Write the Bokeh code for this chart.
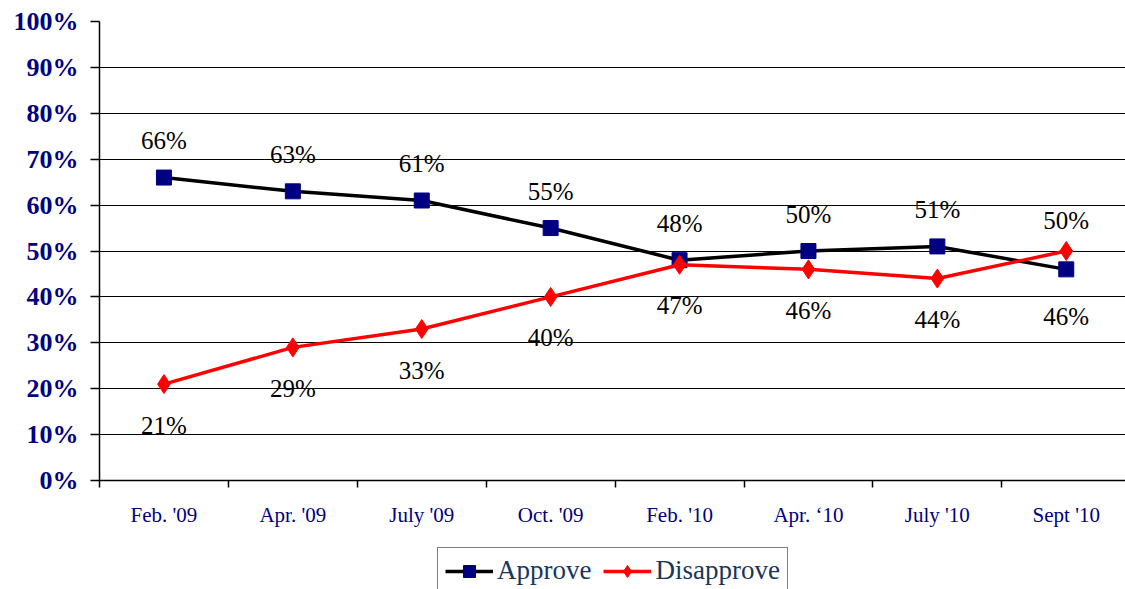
from bokeh.plotting import figure
from bokeh.layouts import column
from bokeh.models import ColumnDataSource, FixedTicker, Legend, LegendItem, Range1d
from bokeh.core.properties import value
from bokeh.embed import file_html
from bokeh.resources import INLINE

categories = ["Feb. '09", "Apr. '09", "July '09", "Oct. '09",
              "Feb. '10", "Apr. \u201810", "July '10", "Sept '10"]
approve = [66, 63, 61, 55, 48, 50, 51, 46]
disapprove = [21, 29, 33, 40, 47, 46, 44, 50]
y_ticks = [0, 10, 20, 30, 40, 50, 60, 70, 80, 90, 100]
series_names = ["Approve", "Disapprove"]

SERIF = "Liberation Serif"
NAVY = "#000080"
RED = "#ff0000"

xs = [i + 0.5 for i in range(len(categories))]
up, down = -37, 41
a_off = [up if a >= d else down + 6 for a, d in zip(approve, disapprove)]
d_off = [up + 6 if d > a else down for a, d in zip(approve, disapprove)]

src = ColumnDataSource(dict(
    x=xs, approve=approve, disapprove=disapprove,
    a_lab=[f"{v}%" for v in approve], d_lab=[f"{v}%" for v in disapprove],
    a_off=a_off, d_off=d_off,
))

p = figure(width=1125, height=540, output_backend="svg", toolbar_location=None,
           x_range=Range1d(0, 1026 / 128.9), y_range=Range1d(0, 100),
           min_border_left=99, min_border_top=21, min_border_bottom=60,
           min_border_right=0)
p.outline_line_color = None
p.background_fill_color = "white"
p.border_fill_color = "white"

# grid
p.xgrid.visible = False
p.ygrid.ticker = FixedTicker(ticks=y_ticks)
p.ygrid.grid_line_color = "#000000"
p.ygrid.grid_line_width = 1

# y axis
p.yaxis.ticker = FixedTicker(ticks=y_ticks)
p.yaxis.major_label_overrides = {t: f"{t}%" for t in y_ticks}
p.yaxis.major_label_text_font = SERIF
p.yaxis.major_label_text_font_style = "bold"
p.yaxis.major_label_text_font_size = "26px"
p.yaxis.major_label_text_color = NAVY
p.yaxis.major_tick_out = 9
p.yaxis.major_tick_in = 0
p.yaxis.minor_tick_out = 0
p.yaxis.minor_tick_in = 0
p.yaxis.major_label_standoff = 12
p.yaxis.axis_line_color = "#000000"
p.yaxis.axis_line_width = 1.5
p.yaxis.major_tick_line_color = "#000000"
p.yaxis.major_tick_line_width = 1.5

# x axis
p.xaxis.ticker = FixedTicker(ticks=xs, minor_ticks=list(range(len(categories) + 1)))
p.xaxis.major_label_overrides = {x: c for x, c in zip(xs, categories)}
p.xaxis.major_label_text_font = SERIF
p.xaxis.major_label_text_font_size = "21px"
p.xaxis.major_label_text_color = NAVY
p.xaxis.major_tick_out = 0
p.xaxis.major_tick_in = 0
p.xaxis.minor_tick_out = 7
p.xaxis.minor_tick_in = 0
p.xaxis.minor_tick_line_color = "#000000"
p.xaxis.minor_tick_line_width = 1.5
p.xaxis.major_label_standoff = 15
p.xaxis.axis_line_color = "#000000"
p.xaxis.axis_line_width = 1.5

# series
p.line("x", "approve", source=src, line_color="#000000", line_width=3.5)
p.scatter("x", "approve", source=src, marker="square", size=15,
          fill_color=NAVY, line_color=NAVY)
p.line("x", "disapprove", source=src, line_color=RED, line_width=3.5)
p.scatter("x", "disapprove", source=src, marker="diamond", size=19,
          fill_color=RED, line_color=RED)

for col, ycol, off in (("a_lab", "approve", "a_off"), ("d_lab", "disapprove", "d_off")):
    p.text("x", ycol, text=col, source=src, y_offset=off,
           text_align="center", text_baseline="middle",
           text_font=value(SERIF), text_font_size="25px", text_color="#000000")

# legend strip below the chart (series drawn off-screen so only the legend shows)
q = figure(width=1125, height=49, output_backend="svg", toolbar_location=None,
           x_range=Range1d(1000, 1001), y_range=Range1d(1000, 1001),
           x_axis_location=None, y_axis_location=None,
           min_border_left=0, min_border_right=0, min_border_top=0, min_border_bottom=0)
q.outline_line_color = None
q.xgrid.visible = False
q.ygrid.visible = False
la = q.line("x", "approve", source=src, line_color="#000000", line_width=3.5)
ma = q.scatter("x", "approve", source=src, marker="square", size=15,
               fill_color=NAVY, line_color=NAVY)
ld = q.line("x", "disapprove", source=src, line_color=RED, line_width=3.5)
md = q.scatter("x", "disapprove", source=src, marker="diamond", size=19,
               fill_color=RED, line_color=RED)

legend = Legend(items=[LegendItem(label=series_names[0], renderers=[la, ma]),
                       LegendItem(label=series_names[1], renderers=[ld, md])],
                orientation="horizontal", location=(338, -5),
                label_text_font=SERIF, label_text_font_size="27px",
                label_text_color="#17365d", glyph_width=48, glyph_height=30,
                label_height=30, label_standoff=4, spacing=12, padding=7,
                margin=0, border_line_color="#000000", border_line_width=1.5,
                background_fill_alpha=1)
q.add_layout(legend, "center")

layout = column(p, q, spacing=0)
open("out.html", "w").write(file_html(layout, INLINE))
